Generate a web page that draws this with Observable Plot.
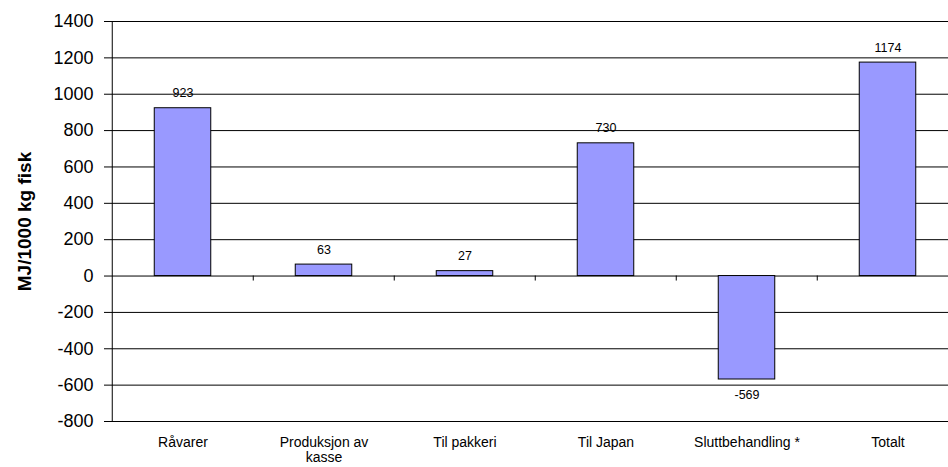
<!DOCTYPE html>
<html><head><meta charset="utf-8">
<script src="https://cdn.jsdelivr.net/npm/d3@7"></script>
<script src="https://cdn.jsdelivr.net/npm/@observablehq/plot@0.6"></script>
<style>body{margin:0;background:#fff} svg{display:block}</style>
</head><body><div id="chart"></div>
<script>
const categories = ["Råvarer", "Produksjon av kasse", "Til pakkeri", "Til Japan", "Sluttbehandling *", "Totalt"];
const values = [923, 63, 27, 730, -569, 1174];
const yTicks = [-800, -600, -400, -200, 0, 200, 400, 600, 800, 1000, 1200, 1400];
const yTitle = "MJ/1000 kg fisk";
const wrappedLabels = {"Produksjon av kasse": "Produksjon av\nkasse"};

const data = categories.map((c, i) => ({category: c, value: values[i]}));
const W = 948, H = 467, mL = 110, mR = -11, mT = 21, mB = 46;
const step = (W - mL - mR) / categories.length;
const barW = 57;
const inset = (step - barW) / 2;

const chart = Plot.plot({
  width: W, height: H,
  marginLeft: mL, marginRight: mR, marginTop: mT, marginBottom: mB,
  style: {fontFamily: "'Liberation Sans', Arial, sans-serif", background: "#fff", color: "#000", overflow: "hidden"},
  x: {domain: categories, padding: 0, axis: null},
  y: {domain: [-800, 1400], axis: null},
  marks: [
    Plot.ruleY(yTicks, {stroke: "#000", strokeWidth: 1}),
    Plot.barY(data, {x: "category", y: "value", fill: "#9999FF", stroke: "#000", strokeWidth: 1, insetLeft: inset, insetRight: inset}),
    Plot.ruleX([categories[0]], {x: d => d, dx: -step / 2, stroke: "#000"}),
    Plot.ruleX(categories.slice(1), {x: d => d, y1: 0, y2: 0, insetBottom: -5, dx: -step / 2, stroke: "#000"}),
    Plot.axisY({ticks: yTicks, tickSize: 6, tickPadding: 11, fontSize: 18, label: null, tickFormat: d => String(d)}),
    Plot.axisX({tickSize: 0, tickPadding: 15, fontSize: 14, lineHeight: 1.08, label: null, tickFormat: d => wrappedLabels[d] ?? d}),
    Plot.text(data.filter(d => d.value >= 0), {x: "category", y: "value", text: d => String(d.value), dy: -15, fontSize: 12.5}),
    Plot.text(data.filter(d => d.value < 0), {x: "category", y: "value", text: d => String(d.value), dy: 15, fontSize: 12.5}),
    Plot.text([yTitle], {frameAnchor: "left", textAnchor: "middle", rotate: -90, dx: -86, fontWeight: "bold", fontSize: 19})
  ]
});
document.getElementById("chart").appendChild(chart);
</script>
</body></html>
